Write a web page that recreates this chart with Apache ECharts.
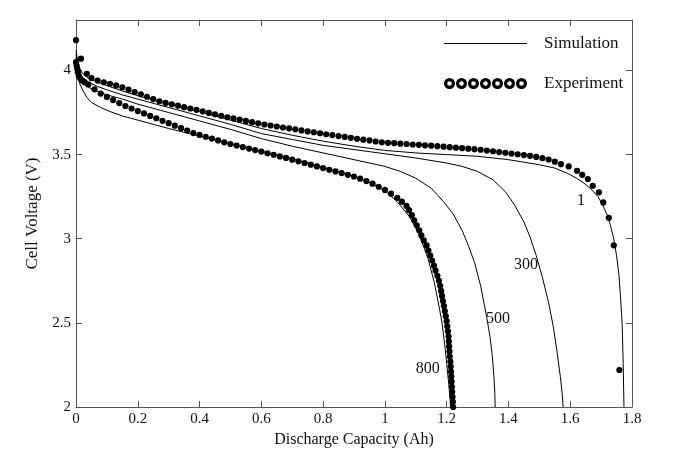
<!DOCTYPE html>
<html>
<head>
<meta charset="utf-8">
<script src="https://cdn.jsdelivr.net/npm/echarts@6/dist/echarts.min.js"></script>
<style>html,body{margin:0;padding:0;background:#fff}#c{width:676px;height:460px}</style>
</head>
<body>
<div id="c"></div>
<script>
// ---- data (capacity Ah, voltage V) ----
const sim1 = [[0,4.12],[0.005,4.06],[0.01,4.02],[0.02,3.985],[0.04,3.955],[0.07,3.93],[0.1,3.91],[0.15,3.878],[0.2,3.85],[0.3,3.80],[0.4,3.755],[0.5,3.705],[0.6,3.655],[0.7,3.615],[0.8,3.58],[0.9,3.55],[1.0,3.525],[1.1,3.51],[1.2,3.50],[1.3,3.49],[1.4,3.47],[1.45,3.455],[1.5,3.44],[1.55,3.42],[1.59,3.39],[1.62,3.36],[1.645,3.33],[1.67,3.29],[1.69,3.25],[1.705,3.2],[1.72,3.14],[1.73,3.08],[1.741,3.0],[1.75,2.9],[1.758,2.78],[1.764,2.62],[1.768,2.5],[1.771,2.3],[1.773,2.1],[1.774,2.0]];
const sim300 = [[0,4.10],[0.005,4.03],[0.01,3.99],[0.02,3.96],[0.04,3.93],[0.07,3.905],[0.1,3.885],[0.15,3.855],[0.2,3.83],[0.3,3.78],[0.4,3.73],[0.5,3.68],[0.6,3.625],[0.7,3.59],[0.8,3.555],[0.9,3.53],[1.0,3.505],[1.1,3.48],[1.2,3.45],[1.25,3.43],[1.3,3.40],[1.35,3.35],[1.39,3.28],[1.42,3.20],[1.45,3.10],[1.47,3.01],[1.49,2.9],[1.51,2.77],[1.53,2.62],[1.545,2.48],[1.558,2.32],[1.568,2.18],[1.574,2.08],[1.577,2.0]];
const sim500 = [[0,4.08],[0.005,4.0],[0.01,3.96],[0.02,3.93],[0.04,3.90],[0.07,3.875],[0.1,3.855],[0.15,3.83],[0.2,3.80],[0.3,3.75],[0.4,3.70],[0.5,3.65],[0.6,3.595],[0.7,3.55],[0.8,3.51],[0.9,3.47],[1.0,3.43],[1.05,3.40],[1.1,3.36],[1.15,3.30],[1.19,3.22],[1.22,3.15],[1.25,3.05],[1.27,2.96],[1.29,2.86],[1.31,2.72],[1.33,2.53],[1.34,2.42],[1.348,2.3],[1.353,2.18],[1.356,2.08],[1.357,2.0]];
const sim800 = [[0,4.05],[0.005,3.97],[0.01,3.93],[0.02,3.89],[0.035,3.84],[0.05,3.81],[0.08,3.78],[0.11,3.756],[0.15,3.73],[0.2,3.705],[0.3,3.655],[0.4,3.61],[0.5,3.565],[0.6,3.52],[0.7,3.475],[0.8,3.425],[0.9,3.37],[0.95,3.335],[1.0,3.285],[1.04,3.22],[1.08,3.13],[1.11,3.03],[1.14,2.88],[1.16,2.74],[1.175,2.6],[1.185,2.5],[1.195,2.35],[1.2,2.26],[1.206,2.15],[1.211,2.05],[1.213,2.0]];
const exp1 = [[0,4.18],[0.016,4.07],[0.035,3.98],[0.05,3.955],[0.07,3.94],[0.09,3.930],[0.11,3.921],[0.13,3.911],[0.15,3.900],[0.17,3.886],[0.19,3.872],[0.21,3.858],[0.23,3.844],[0.25,3.830],[0.27,3.817],[0.29,3.807],[0.31,3.799],[0.33,3.791],[0.35,3.782],[0.37,3.774],[0.39,3.766],[0.41,3.757],[0.43,3.748],[0.45,3.740],[0.47,3.731],[0.49,3.722],[0.51,3.715],[0.53,3.708],[0.55,3.700],[0.57,3.693],[0.59,3.686],[0.61,3.679],[0.63,3.673],[0.65,3.667],[0.67,3.661],[0.69,3.656],[0.71,3.650],[0.73,3.644],[0.75,3.638],[0.77,3.633],[0.79,3.627],[0.81,3.621],[0.83,3.616],[0.85,3.610],[0.87,3.605],[0.89,3.600],[0.91,3.594],[0.93,3.589],[0.95,3.584],[0.97,3.578],[0.99,3.573],[1.01,3.570],[1.03,3.568],[1.05,3.565],[1.07,3.563],[1.09,3.560],[1.11,3.558],[1.13,3.555],[1.15,3.553],[1.17,3.550],[1.19,3.547],[1.21,3.544],[1.23,3.541],[1.25,3.538],[1.27,3.535],[1.29,3.532],[1.31,3.529],[1.33,3.524],[1.35,3.520],[1.37,3.515],[1.39,3.511],[1.41,3.506],[1.43,3.502],[1.45,3.497],[1.47,3.493],[1.49,3.486],[1.51,3.479],[1.53,3.471],[1.55,3.458],[1.57,3.443],[1.595,3.43],[1.622,3.404],[1.639,3.38],[1.657,3.355],[1.673,3.315],[1.693,3.276],[1.707,3.216],[1.725,3.124],[1.741,2.961],[1.759,2.22]];
const exp800 = [[0,4.05],[0.002,4.03],[0.004,4.01],[0.006,3.99],[0.009,3.97],[0.013,3.955],[0.02,3.94],[0.028,3.93],[0.04,3.917],[0.06,3.888],[0.08,3.863],[0.10,3.843],[0.12,3.824],[0.14,3.806],[0.16,3.789],[0.18,3.774],[0.20,3.759],[0.22,3.745],[0.24,3.730],[0.26,3.716],[0.28,3.701],[0.30,3.687],[0.32,3.672],[0.34,3.657],[0.36,3.643],[0.38,3.628],[0.40,3.617],[0.42,3.606],[0.44,3.595],[0.46,3.584],[0.48,3.573],[0.50,3.563],[0.52,3.554],[0.54,3.545],[0.56,3.536],[0.58,3.527],[0.60,3.518],[0.62,3.508],[0.64,3.499],[0.66,3.489],[0.68,3.480],[0.70,3.470],[0.72,3.460],[0.74,3.450],[0.76,3.440],[0.78,3.430],[0.80,3.420],[0.82,3.410],[0.84,3.400],[0.86,3.390],[0.88,3.380],[0.90,3.370],[0.92,3.357],[0.94,3.343],[0.96,3.327],[0.98,3.309],[1.00,3.290],[1.02,3.268],[1.04,3.243],[1.055,3.22],[1.07,3.195],[1.078,3.17],[1.087,3.14],[1.095,3.11],[1.103,3.08],[1.111,3.05],[1.118,3.02],[1.126,2.99],[1.135,2.96],[1.141,2.93],[1.147,2.90],[1.153,2.87],[1.159,2.84],[1.164,2.81],[1.170,2.78],[1.175,2.75],[1.179,2.72],[1.182,2.69],[1.185,2.66],[1.188,2.63],[1.191,2.60],[1.194,2.57],[1.197,2.54],[1.200,2.51],[1.202,2.48],[1.204,2.45],[1.206,2.42],[1.207,2.39],[1.208,2.36],[1.209,2.33],[1.210,2.30],[1.212,2.27],[1.213,2.24],[1.214,2.21],[1.215,2.18],[1.216,2.15],[1.217,2.12],[1.218,2.09],[1.219,2.06],[1.220,2.03],[1.221,2.00]];
const xTickLabels = ['0','0.2','0.4','0.6','0.8','1','1.2','1.4','1.6','1.8'];
const yTickLabels = ['2','2.5','3','3.5','4'];
const curveLabels = ['1','300','500','800'];

// ---- styling ----
const FONT = 'Liberation Serif';
const AX = '#555';
const TXT = '#111';

function ringsPath(n, R, r, step) {
  let p = '';
  for (let i = 0; i < n; i++) {
    const cx = R + step * i, cy = R;
    p += `M${cx-R},${cy}A${R},${R} 0 1,1 ${cx+R},${cy}A${R},${R} 0 1,1 ${cx-R},${cy}Z`;
    p += `M${cx-r},${cy}A${r},${r} 0 1,0 ${cx+r},${cy}A${r},${r} 0 1,0 ${cx-r},${cy}Z`;
  }
  return 'path://' + p;
}

function fmtLabel(list) {
  return function (v) {
    const s = String(Math.round(v * 1000) / 1000);
    return list.indexOf(s) >= 0 ? s : '';
  };
}

function simSeries(data, label, coord) {
  return {
    name: 'Simulation', type: 'line', data: data, symbol: 'none',
    lineStyle: { color: '#000', width: 1 }, itemStyle: { color: '#000' },
    z: 2, silent: true,
    markPoint: {
      symbol: 'circle', symbolSize: 1, itemStyle: { color: 'rgba(0,0,0,0)' },
      label: { show: true, position: 'inside', formatter: label, color: TXT, fontFamily: FONT, fontSize: 16 },
      data: [{ coord: coord }]
    }
  };
}
function expSeries(data) {
  return {
    name: 'Experiment', type: 'scatter', data: data, symbol: 'circle', symbolSize: 6.2,
    itemStyle: { color: '#000', opacity: 1 }, z: 3, silent: true
  };
}

const baseAxis = {
  type: 'value',
  axisLine: { show: true, onZero: false, lineStyle: { color: AX, width: 1 } },
  axisTick: { show: true, inside: true, length: 6, lineStyle: { color: AX, width: 1 } },
  splitLine: { show: false }
};

const chart = echarts.init(document.getElementById('c'));
chart.setOption({
  animation: false,
  backgroundColor: '#fff',
  grid: { left: 76, right: 44, top: 20, bottom: 53 },
  legend: {
    orient: 'vertical', left: 444, top: 35, padding: 0, itemWidth: 83, itemHeight: 12, itemGap: 23,
    selectedMode: false,
    textStyle: { fontFamily: FONT, fontSize: 17, color: TXT, padding: [0, 0, 0, 12] },
    data: [
      { name: 'Simulation', icon: 'path://M0,0H83V1.2H0Z' },
      { name: 'Experiment', icon: ringsPath(7, 5.5, 2.3, 12) }
    ]
  },
  xAxis: [
    Object.assign({}, baseAxis, {
      min: 0, max: 1.8, interval: 0.2, position: 'bottom',
      axisLabel: { fontFamily: FONT, fontSize: 15, color: TXT, margin: 5, formatter: fmtLabel(xTickLabels) },
      name: 'Discharge Capacity (Ah)', nameLocation: 'middle', nameGap: 22,
      nameTextStyle: { fontFamily: FONT, fontSize: 16, color: TXT }
    }),
    Object.assign({}, baseAxis, {
      min: 0, max: 1.8, interval: 0.2, position: 'top', axisLabel: { show: false }
    })
  ],
  yAxis: [
    Object.assign({}, baseAxis, {
      min: 2, max: 4.3, interval: 0.5, position: 'left',
      axisLabel: { fontFamily: FONT, fontSize: 15, color: TXT, margin: 5, showMaxLabel: false, formatter: fmtLabel(yTickLabels) },
      name: 'Cell Voltage (V)', nameLocation: 'middle', nameGap: 35,
      nameTextStyle: { fontFamily: FONT, fontSize: 17, color: TXT }
    }),
    Object.assign({}, baseAxis, {
      min: 2, max: 4.3, interval: 0.5, position: 'right', axisLabel: { show: false }
    })
  ],
  series: [
    simSeries(sim1, curveLabels[0], [1.635, 3.226]),
    simSeries(sim300, curveLabels[1], [1.457, 2.847]),
    simSeries(sim500, curveLabels[2], [1.366, 2.527]),
    simSeries(sim800, curveLabels[3], [1.139, 2.23]),
    expSeries(exp1),
    expSeries(exp800)
  ]
});
</script>
</body>
</html>
